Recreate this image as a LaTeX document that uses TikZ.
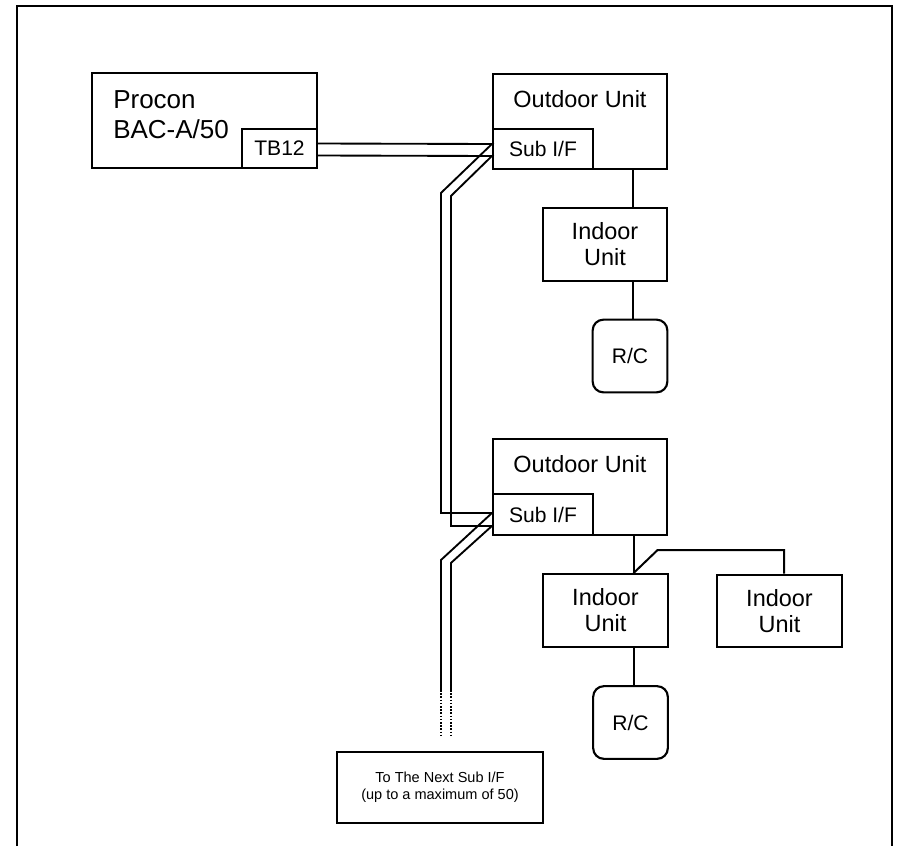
\documentclass[tikz,border=0pt]{standalone}
\usepackage{fontspec}
\setmainfont{Liberation Sans}
\usetikzlibrary{positioning,calc}
\newcommand{\bigfont}{\fontsize{19.5}{22.5}\selectfont}
\newcommand{\unitfont}{\fontsize{17.6}{19.5}\selectfont}
\newcommand{\smallfont}{\fontsize{15.8}{18}\selectfont}
\newcommand{\notefont}{\fontsize{10.9}{12.9}\selectfont}

\begin{document}
\begin{tikzpicture}[
    x=0.75pt, y=-0.75pt,
    box/.style={draw,line width=1.6pt,inner sep=0pt,align=center},
    unitbox/.style={box,minimum width=93.5pt,minimum height=54.5pt,font=\unitfont},
    subbox/.style={box,minimum width=75pt,minimum height=30pt,font=\smallfont},
    rcbox/.style={box,rounded corners=8pt,minimum width=56pt,minimum height=54.5pt,font=\smallfont},
    wire/.style={line width=1.4pt},
    endwire/.style={line width=1.4pt,dash pattern=on 1.2pt off 1.2pt},
    link/.style={line width=1.5pt}
  ]
    \useasboundingbox (0,0) rectangle (899,846);
    \draw[line width=1.2pt] (17,846) -- (17,6) -- (892,6) -- (892,846);

    \node[box,minimum width=168.75pt,minimum height=71.25pt] (procon) at (204.5,120.5) {};
    \node[anchor=north west,inner sep=0pt,align=left,font=\bigfont] (procontxt) at (113,90) {Procon\\BAC-A/50};
    \node[box,minimum width=56.25pt,minimum height=29.25pt,font=\smallfont] (tb) at (279.5,148.5) {TB12};

    \node[box,minimum width=130.5pt,minimum height=71.25pt] (outA) at (580,121.5) {};
    \node[anchor=base,inner sep=0pt,font=\unitfont] (outAtxt) at (580,107) {Outdoor Unit};
    \node[subbox] (subA) at (543,149) {Sub I/F};
    \node[unitbox] (indA) at (605,244.5) {Indoor\\Unit};
    \node[rcbox] (rcA) at (630,356) {R/C};

    \node[box,minimum width=130.5pt,minimum height=72pt] (outB) at (580,487) {};
    \node[anchor=base,inner sep=0pt,font=\unitfont] (outBtxt) at (580,472) {Outdoor Unit};
    \node[subbox,minimum height=30.75pt] (subB) at (543,514.5) {Sub I/F};
    \node[unitbox] (indB) at (605.5,610.5) {Indoor\\Unit};
    \node[unitbox] (indC) at (779.5,611) {Indoor\\Unit};
    \node[rcbox] (rcB) at (630.5,722.5) {R/C};

    \node[box,line width=1.4pt,minimum width=154.5pt,minimum height=53.25pt,font=\notefont] (note) at (440,787.5) {To The Next Sub I/F\\(up to a maximum of 50)};

    \draw[wire] ([yshift=3.75pt]tb.east) -- ([yshift=3.75pt]subA.west) -- ++(-51,49) |- ([yshift=1.1pt]subB.west);
    \draw[wire] ([yshift=-5.25pt]tb.east) -- ([yshift=-5.25pt]subA.west) -- ++(-41,40) |- ([yshift=-8.6pt]subB.west);
    \draw[wire] ([yshift=1.1pt]subB.west) -- ++(-51,47) -- ++(0,130) coordinate (endA);
    \draw[wire] ([yshift=-8.6pt]subB.west) -- ++(-41,37) -- ++(0,127) coordinate (endB);
    \draw[endwire] (endA) -- ++(0,47);
    \draw[endwire] (endB) -- ++(0,47);

    \draw[link] ([xshift=2.25pt]outA.south -| rcA) -- ([xshift=2.25pt]indA.north -| rcA);
    \draw[link] ([xshift=2.25pt]indA.south -| rcA) -- ([xshift=2.25pt]rcA.north);
    \draw[link] ([xshift=2.25pt]outB.south -| rcB) -- ([xshift=2.25pt]indB.north -| rcB) coordinate (fork);
    \draw[link] (fork) -- ++(24,-23) -| ([xshift=3.4pt]indC.north);
    \draw[link] ([xshift=2.25pt]indB.south -| rcB) -- ([xshift=2.25pt]rcB.north);
  \end{tikzpicture}
\end{document}
